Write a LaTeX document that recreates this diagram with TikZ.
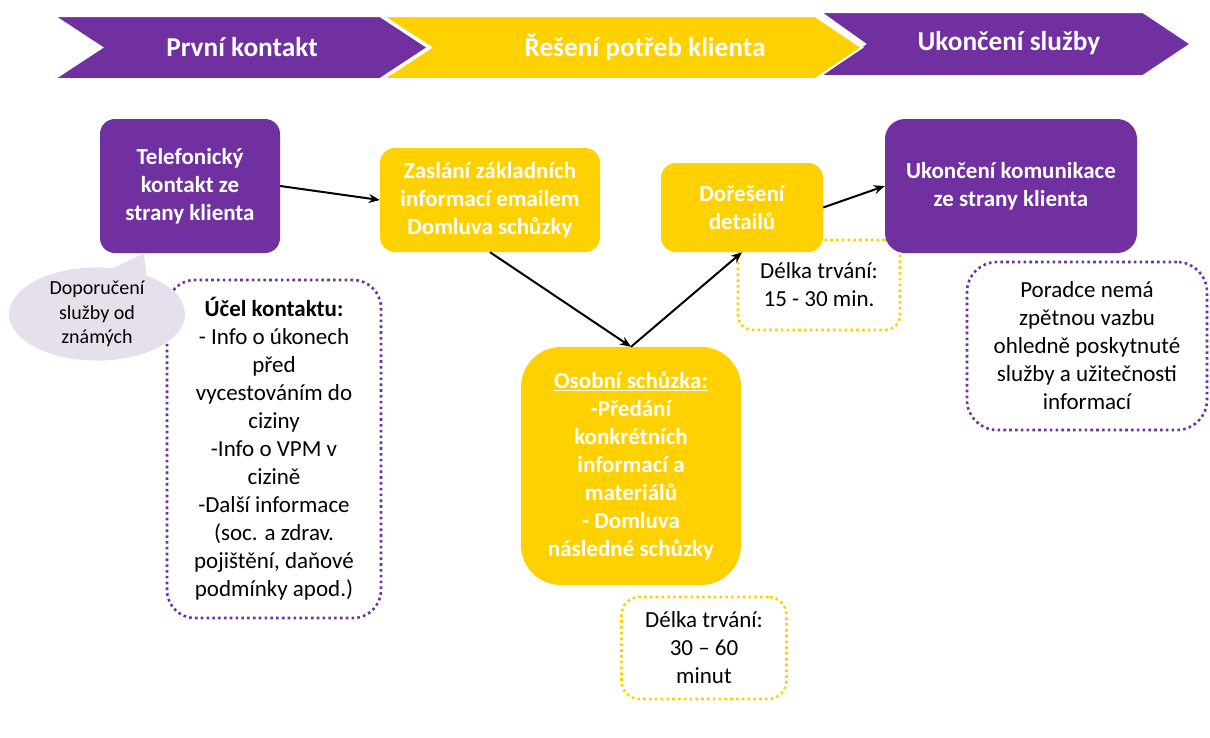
\documentclass[tikz,border=0pt]{standalone}
\usepackage{fontspec}
\setmainfont{Carlito}
\usetikzlibrary{arrows.meta,shapes.callouts,backgrounds,positioning}
\definecolor{fialova}{HTML}{7030A0}
\definecolor{zluta}{HTML}{FFD100}
\definecolor{levandule}{HTML}{E6E0EC}

\begin{document}
\begin{tikzpicture}[%
    x=1pt, y=-1pt,                          % pixel-like grid, y grows downwards
    >={Stealth[length=11pt,width=9pt]},     % arrow tips of the connectors
    font=\fontsize{23}{28}\selectfont,
    ]
\useasboundingbox (0,0) rectangle (1210,737);
% -------------------------------------------------
% Box styles
\tikzset{
base/.style={align=center, inner sep=0pt},
box/.style={base, fill=#1, text=white, font=\fontsize{23}{28}\selectfont\bfseries, rounded corners=15pt},
dotbox/.style={base, draw=#1, line width=2.6pt, dash pattern=on 2.6pt off 3.2pt, rounded corners=22pt, fill=white},
bubble/.style={base, ellipse callout, fill=levandule, font=\fontsize{20}{24.5}\selectfont},
% header chevrons
phase/.style={fill=#1, draw=white, line width=2pt, line join=miter},
phasetext/.style={text=white, font=\fontsize{27.3}{32}\selectfont\bfseries},
% -------------------------------------------------
% Connector line style
norm/.style={->, draw, line width=2pt},
}
% -------------------------------------------------
% Header arrows (drawn right to left, so each one overlaps the next)
\path[phase=fialova] (820,12) -- (1143,12) -- (1191,44) -- (1143,76) -- (820,76) -- (865,44) -- cycle;
\path[phase=zluta] (383,16) -- (815,16) -- (862,47.5) -- (815,79) -- (383,79) -- (431,47.5) -- cycle;
\path[phase=fialova] (54,16) -- (380,16) -- (428,47.5) -- (380,79) -- (54,79) -- (102,47.5) -- cycle;
\node [phasetext] (faze1) at (242,47) {První kontakt};
\node [phasetext] (faze2) at (645,47) {Řešení potřeb klienta};
\node [phasetext] (faze3) at (1009,43) {Ukončení služby};

% -------------------------------------------------
% Main boxes
\node [box=fialova, minimum width=180pt, minimum height=134pt] (tel) at (190,186)
    {Telefonický\\kontakt ze\\strany klienta};
\node [box=zluta, minimum width=220pt, minimum height=104pt] (email) at (490,200)
    {Zaslání základních\\informací emailem\\Domluva schůzky};
\node [box=zluta, minimum width=220pt, minimum height=238pt, rounded corners=40pt] (osobni) at (631,466)
    {\underline{Osobní schůzka:}\\-Předání\\konkrétních\\informací a\\materiálů\\- Domluva\\následné schůzky};
\node [box=zluta, minimum width=162pt, minimum height=89pt] (detail) at (742,207.5)
    {Dořešení\\detailů};
\node [box=fialova, minimum width=252pt, minimum height=134pt, rounded corners=20pt] (konec) at (1011,186)
    {Ukončení komunikace\\ze strany klienta};

% Connectors
\draw [norm] (tel.east) -- (email.west);
\draw [norm] (email.south) -- (osobni.north);
\draw [norm] (osobni.north) -- (detail.south);
\draw [norm] (detail.east) -- (konec.west);

% Speech bubble pointing at the first box
\node [bubble, minimum width=176pt, minimum height=86pt, callout pointer arc=24,
    callout absolute pointer={([xshift=-46pt]tel.south)}] (doporuceni) at (97,314)
    {Doporučení\\služby od\\známých};

% -------------------------------------------------
% Dotted note boxes
\begin{scope}[on background layer]
    \node [dotbox=fialova, minimum width=214pt, minimum height=338pt, rounded corners=28pt] (ucel) at (274,449)
        {\textbf{Účel kontaktu:}\\- Info o úkonech\\před\\vycestováním do\\ciziny\\-Info o VPM v\\cizině\\-Další informace\\(soc. a zdrav.\\pojištění, daňové\\podmínky apod.)};
    \node [dotbox=zluta, minimum width=162pt, minimum height=90pt, rounded corners=15pt] (cas1) at (819,285)
        {Délka trvání:\\15 - 30 min.};
    \node [dotbox=zluta, minimum width=165pt, minimum height=102pt, rounded corners=18pt] (cas2) at (704,648)
        {Délka trvání:\\30 – 60\\minut};
    \node [dotbox=fialova, minimum width=240pt, minimum height=168pt, rounded corners=30pt] (poradce) at (1087,346)
        {Poradce nemá\\zpětnou vazbu\\ohledně poskytnuté\\služby a užitečnosti\\informací};
\end{scope}

\end{tikzpicture}
\end{document}
